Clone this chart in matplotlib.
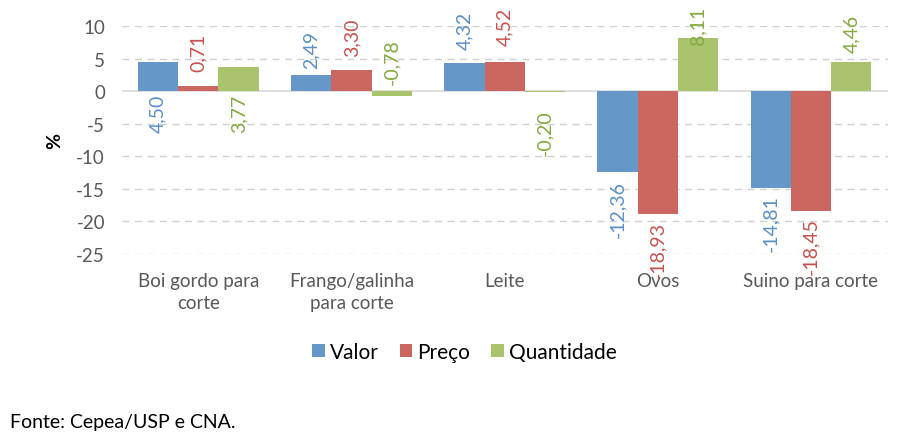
import numpy as np
import matplotlib.pyplot as plt

categorias = ["Boi gordo para\ncorte", "Frango/galinha\npara corte", "Leite", "Ovos", "Suino para corte"]
valor = [4.50, 2.49, 4.32, -12.36, -14.81]
preco = [0.71, 3.30, 4.52, -18.93, -18.45]
quantidade = [3.77, -0.78, -0.20, 8.11, 4.46]
series = ["Valor", "Preço", "Quantidade"]
yticks = [10, 5, 0, -5, -10, -15, -20, -25]

plt.rcParams['font.family'] = ['Lato', 'DejaVu Sans']

cores = ['#6597C8', '#CC6661', '#A9C46C']
cores_txt = ['#5B8FCB', '#C9514F', '#86AA3E']

fig = plt.figure(figsize=(9.02, 4.35), dpi=100)
ax = fig.add_axes([0.135, 0.414, 0.849, 0.524])

x = np.arange(len(categorias))
w = 0.263
dados = [valor, preco, quantidade]

# label placement like the Excel original: (anchor at zero?, va, offset in points)
lab_pos = [
    [(True, 'top', -2), (False, 'bottom', 5), (False, 'bottom', 10), (False, 'top', -6), (False, 'top', -5)],
    [(False, 'bottom', 11), (False, 'bottom', 10), (False, 'bottom', 12), (False, 'top', -5), (False, 'top', -4)],
    [(True, 'top', -2), (True, 'bottom', 5), (True, 'top', -13), (False, 'bottom', -4), (False, 'bottom', 7)],
]

for i, (vals, nome) in enumerate(zip(dados, series)):
    pos = x + (i - 1) * w
    ax.bar(pos, vals, w, color=cores[i], label=nome, zorder=3)
    for j, v in enumerate(vals):
        at_zero, va, off = lab_pos[i][j]
        base = 0 if at_zero else v
        ax.annotate(f"{v:.2f}".replace('.', ','), (pos[j], base),
                    xytext=(0, off), textcoords='offset points',
                    rotation=90, ha='center', va=va, fontsize=14,
                    color=cores_txt[i], annotation_clip=False, zorder=4)

ax.set_xlim(-0.5, len(categorias) - 0.5)
ax.set_ylim(-25, 10)
ax.set_yticks(yticks)
ax.set_xticks(x)
ax.set_xticklabels(categorias, fontsize=13.5, color='#595959', linespacing=1.35)
ax.tick_params(axis='y', labelsize=13.5, labelcolor='#595959', length=0, pad=12)
ax.tick_params(axis='x', length=0, pad=13)
ax.yaxis.set_major_formatter(plt.FuncFormatter(lambda v, p: f"{int(v)}"))
for v in yticks:
    if v != 0:
        ax.axhline(v, color='#D0D0D0', lw=1, ls=(0, (5, 4)), zorder=1)
ax.axhline(0, color='#D9D9D9', lw=1.2, zorder=2)
for s in ax.spines.values():
    s.set_visible(False)

ax.set_ylabel('%', fontsize=14, fontweight='bold', color='black', labelpad=9)

fig.legend(loc='center', bbox_to_anchor=(0.515, 0.188), ncol=3, frameon=False,
           fontsize=15, handlelength=0.6, handleheight=0.6, handletextpad=0.25,
           columnspacing=1.0)
fig.text(0.011, 0.015, 'Fonte: Cepea/USP e CNA.', fontsize=14, color='black')

fig.savefig('out.png', dpi=100)
